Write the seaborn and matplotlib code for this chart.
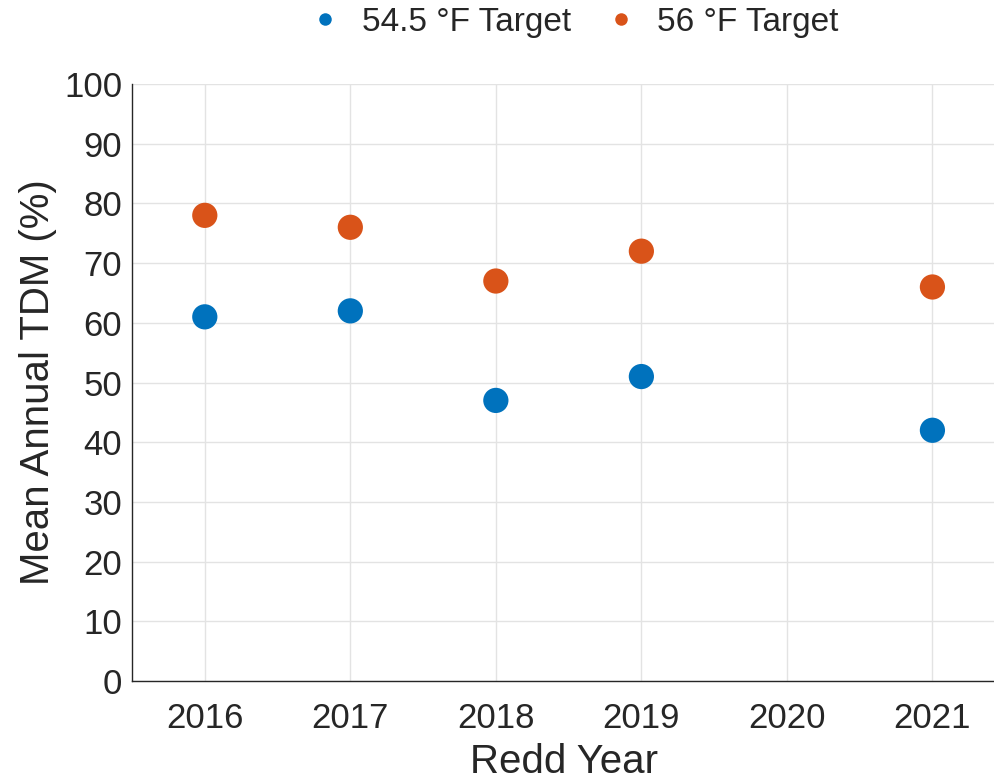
import matplotlib.pyplot as plt
import pandas as pd
import seaborn as sns

# Values
years = [2016, 2017, 2018, 2019, 2021]
tdm_545 = [61, 62, 47, 51, 42]
tdm_56 = [78, 76, 67, 72, 66]
series_names = ["54.5 °F Target", "56 °F Target"]
x_ticks = [2016, 2017, 2018, 2019, 2020, 2021]
y_ticks = list(range(0, 101, 10))

df = pd.concat([
    pd.DataFrame({"year": years, "tdm": tdm_545, "target": series_names[0]}),
    pd.DataFrame({"year": years, "tdm": tdm_56, "target": series_names[1]}),
])

sns.set_style("white")
plt.rcParams["font.family"] = ["Liberation Sans", "DejaVu Sans"]

fig = plt.figure(figsize=(9.95, 7.8), dpi=100)
ax = fig.add_axes([0.1327, 0.1269, 0.8673, 0.7654])

palette = {series_names[0]: "#0072BD", series_names[1]: "#D95319"}
sns.scatterplot(data=df, x="year", y="tdm", hue="target", palette=palette,
                s=330, edgecolor="none", ax=ax, zorder=3)

ax.set_xlim(2015.5, 2021.43)
ax.set_ylim(0, 100)
ax.set_xticks(x_ticks)
ax.set_yticks(y_ticks)
ax.grid(True, color="#e3e3e3", linewidth=1.0)
ax.set_axisbelow(True)
ax.spines[["top", "right"]].set_visible(False)
for side in ["left", "bottom"]:
    ax.spines[side].set_color("#262626")
    ax.spines[side].set_linewidth(1.0)
ax.tick_params(direction="in", length=6, width=1, color="#262626",
               labelsize=25, labelcolor="#262626")
ax.tick_params(axis="x", pad=15)
ax.tick_params(axis="y", pad=7)

ax.set_xlabel("Redd Year", fontsize=29, color="#262626", labelpad=6)
ax.set_ylabel("Mean Annual TDM (%)", fontsize=29, color="#262626", labelpad=5)

handles, labels = ax.get_legend_handles_labels()
for h in handles:
    h.set_markersize(9)
ax.legend(handles, labels, loc="center", bbox_to_anchor=(0.578, 0.971),
          bbox_transform=fig.transFigure, ncol=2, frameon=False,
          fontsize=24, handlelength=0.8, handletextpad=0.7,
          columnspacing=1.1, borderaxespad=0)

fig.savefig("out.png", dpi=100)
